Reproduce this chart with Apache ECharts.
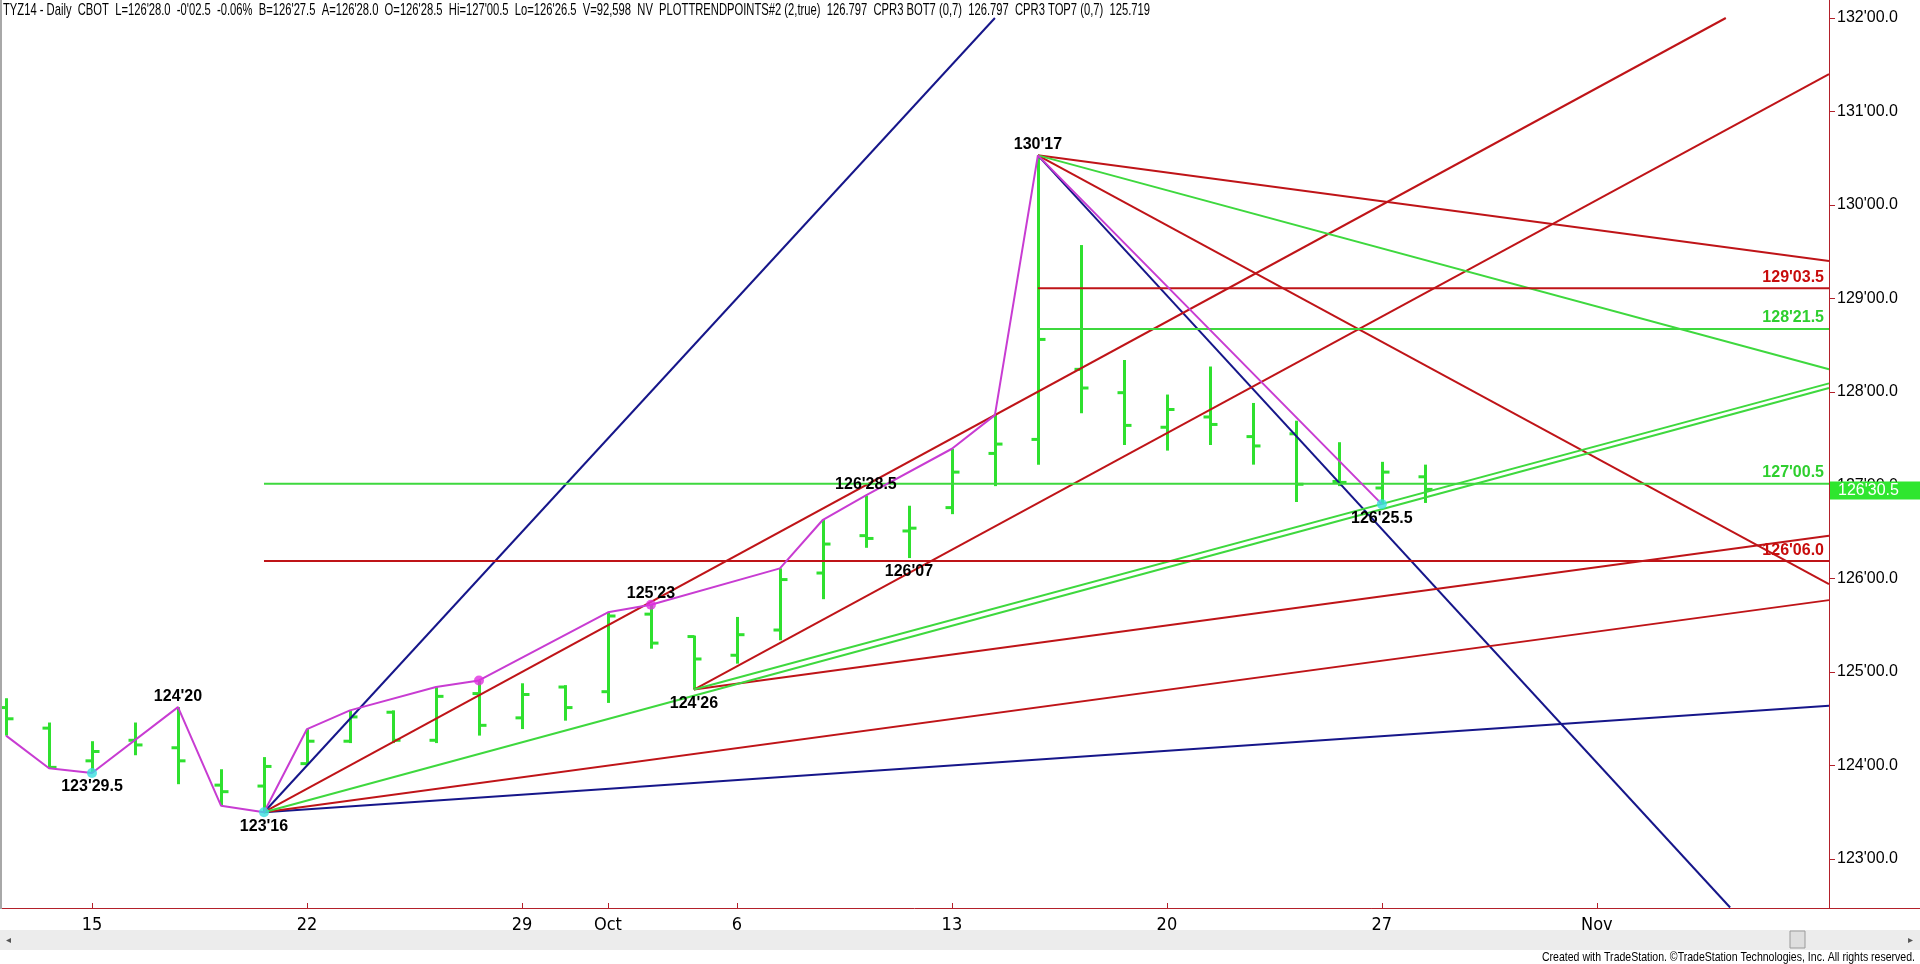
<!DOCTYPE html>
<html><head><meta charset="utf-8">
<script src="https://cdn.jsdelivr.net/npm/echarts@6/dist/echarts.min.js"></script>
<style>html,body{margin:0;padding:0;background:#fff;overflow:hidden}#c{width:1920px;height:964px;}</style>
</head><body><div id="c"></div>
<script>
// ---- data (prices in decimal points; labels in 32nds as shown) ----
const dates = ['Sep 11','Sep 12','Sep 15','Sep 16','Sep 17','Sep 18','Sep 19','Sep 22','Sep 23','Sep 24','Sep 25','Sep 26','Sep 29','Sep 30',
  'Oct 1','Oct 2','Oct 3','Oct 6','Oct 7','Oct 8','Oct 9','Oct 10','Oct 13','Oct 14','Oct 15','Oct 16','Oct 17','Oct 20','Oct 21','Oct 22','Oct 23','Oct 24','Oct 27','Oct 28'];
const opens  = [124.62,124.40,124.05,124.27,124.19,123.79,123.78,124.02,124.26,124.57,124.27,124.77,124.51,124.84,124.79,125.62,125.38,125.18,125.45,126.06,126.46,126.51,126.76,127.34,127.49,128.24,127.99,127.62,127.73,127.52,127.55,127.04,126.97,127.09];
const highs  = [124.72,124.46,124.26,124.46,124.625,123.96,124.09,124.39,124.59,124.59,124.84,124.91,124.88,124.86,125.64,125.72,125.39,125.59,126.11,126.63,126.89,126.78,127.39,127.75,130.53,129.57,128.34,127.97,128.27,127.88,127.69,127.46,127.25,127.22];
const lows   = [124.32,123.97,123.92,124.11,123.80,123.57,123.50,124.01,124.24,124.24,124.24,124.32,124.39,124.48,124.67,125.25,124.8125,125.09,125.34,125.78,126.33,126.22,126.69,126.99,127.22,127.77,127.43,127.37,127.43,127.22,126.82,126.99,126.797,126.81];
const closes = [124.50,123.98,124.15,124.22,124.05,123.72,123.99,124.26,124.52,124.27,124.74,124.43,124.76,124.62,125.60,125.31,125.14,125.40,125.99,126.37,126.43,126.54,127.14,127.44,128.56,128.04,127.64,127.81,127.65,127.42,127.01,127.03,127.14,126.955];

const dateTickIdx    = [2,7,12,14,17,22,27,32,37];
const dateTickLabels = ['15','22','29','Oct','6','13','20','27','Nov'];
const priceTicks = [123,124,125,126,127,128,129,130,131,132];

const zigzag = [[0,124.32],[1,123.97],[2,123.92],[4,124.625],[5,123.57],[6,123.5],[7,124.39],[8,124.59],[10,124.84],[11,124.91],
  [14,125.64],[15,125.72],[18,126.11],[19,126.63],[20,126.89],[22,127.39],[23,127.75],[24,130.53],[32,126.797]];
const highDots = [[11,124.91],[15,125.72]];
const lowDots  = [[2,123.92],[6,123.5],[32,126.797]];
const swingLabels = [[2,123.92,"123'29.5",'L'],[4,124.625,"124'20",'H'],[6,123.5,"123'16",'L'],[15,125.72,"125'23",'H'],
  [16,124.8125,"124'26",'L'],[20,126.89,"126'28.5",'H'],[21,126.22,"126'07",'L'],[24,130.53,"130'17",'H'],[32,126.797,"126'25.5",'L']];

const blueLines  = [[[6,123.5],[23,132]], [[6,123.5],[42.4,124.64]], [[24,130.53],[40.1,122.48]]];
const redLines   = [[[6,123.5],[40,132]], [[6,123.5],[42.4,125.77]], [[16,124.8125],[42.4,131.40]], [[16,124.8125],[42.4,126.46]],
                    [[24,130.53],[42.4,129.40]], [[24,130.53],[42.4,125.94]]];
const greenLines = [[[6,123.5],[42.4,128.04]], [[16,124.8125],[42.4,128.09]], [[24,130.53],[42.4,128.24]]];
const greenLevels = [[6,127.0156,"127'00.5"],[24,128.672,"128'21.5"]];
const redLevels   = [[6,126.1875,"126'06.0"],[24,129.109,"129'03.5"]];
const lastClose = 126.953, lastCloseLabel = "126'30.5";

const headerParts = [
  ['g',"TYZ14 - Daily  CBOT"],['r',"L=126'28.0  -0'02.5  -0.06%"],['k',"B=126'27.5  A=126'28.0"],['r',"O=126'28.5"],
  ['k',"Hi=127'00.5  Lo=126'26.5  V=92,598  NV  PLOTTRENDPOINTS#2 (2,true)"],['m',"126.797"],['k',"CPR3 BOT7 (0,7)"],
  ['c',"126.797"],['k',"CPR3 TOP7 (0,7)"],['m',"125.719"]];
const footerText = 'Created with TradeStation. ©TradeStation Technologies, Inc. All rights reserved.';

const xMin = -0.14, xMax = 42.4, yMin = 122.475, yMax = 132.0;

// ---- styles ----
const C = {bar:'#2fe02f', green:'#3ed83e', red:'#bf1418', blue:'#16168a', mag:'#c83cd2', cyan:'#38dede', axis:'#b3202a'};
const ARIAL = "Arial, 'Liberation Sans', sans-serif";

// measure text to emulate a narrow face by horizontal scaling
const mctx = document.createElement('canvas').getContext('2d');
function textWidth(t, font){ mctx.font = font; return mctx.measureText(t).width; }
const headerPlain = headerParts.map(p=>p[1]).join('  ');
const headerFont = '17px ' + ARIAL;
const headerScale = 1147 / textWidth(headerPlain, headerFont);
const footerFont = '13px ' + ARIAL;
const footerScale = 373 / textWidth(footerText, footerFont);

const chart = echarts.init(document.getElementById('c'), null, {renderer:'canvas'});
const series = [];

series.push({
  type:'custom', name:'bars', z:3, clip:true,
  data: dates.map((d,i)=>[i, opens[i], highs[i], lows[i], closes[i]]),
  encode:{x:0, y:[1,2,3,4]},
  renderItem(params, api){
    const i = api.value(0);
    const o = api.coord([i, api.value(1)]), h = api.coord([i, api.value(2)]),
          l = api.coord([i, api.value(3)]), c = api.coord([i, api.value(4)]);
    const x = Math.round(h[0]) + 0.5;
    const st = {stroke:C.bar, lineWidth:3};
    return {type:'group', children:[
      {type:'line', shape:{x1:x,y1:h[1],x2:x,y2:l[1]}, style:st},
      {type:'line', shape:{x1:x-7,y1:o[1],x2:x,y2:o[1]}, style:st},
      {type:'line', shape:{x1:x,y1:c[1],x2:x+7,y2:c[1]}, style:st}
    ]};
  }
});

function addLines(list, color, w){
  list.forEach(seg=>series.push({type:'line', data:seg, symbol:'none', clip:true, silent:true, z:4,
    lineStyle:{color, width:w}}));
}
addLines(blueLines, C.blue, 2);
addLines(redLines, C.red, 2);
addLines(greenLines, C.green, 2);
addLines(greenLevels.map(d=>[[d[0],d[1]],[xMax,d[1]]]), C.green, 2);
addLines(redLevels.map(d=>[[d[0],d[1]],[xMax,d[1]]]), C.red, 2);

series.push({type:'line', data:zigzag, symbol:'none', z:5, lineStyle:{color:C.mag, width:2}});
series.push({type:'scatter', data:highDots, symbolSize:10, z:6, itemStyle:{color:'#e030e0'}});
series.push({type:'scatter', data:lowDots, symbolSize:10, z:6, itemStyle:{color:C.cyan}});

series.push({
  type:'custom', z:7, clip:false, data: swingLabels.map(d=>[d[0],d[1]]),
  encode:{x:0,y:1},
  renderItem(params, api){
    const s = swingLabels[params.dataIndex];
    const p = api.coord([s[0], s[1]]);
    const hi = s[3]==='H';
    return {type:'text', x:p[0], y: hi ? p[1]-3 : p[1]+6,
      style:{text:s[2], fill:'#000', font:'bold 16px '+ARIAL, align:'center', verticalAlign: hi?'bottom':'top'}};
  }
});
function levelLabels(list, color){
  series.push({
    type:'custom', z:7, clip:false, data: list.map(d=>[xMax,d[1]]), encode:{x:0,y:1},
    renderItem(params, api){
      const s = list[params.dataIndex];
      const p = api.coord([xMax, s[1]]);
      return {type:'text', x:p[0]-5, y:p[1]-3,
        style:{text:s[2], fill:color, font:'bold 16px '+ARIAL, align:'right', verticalAlign:'bottom'}};
    }
  });
}
levelLabels(greenLevels, '#2fcf2f');
levelLabels(redLevels, '#c80c0c');

// last price tag on the axis
series.push({
  type:'custom', z:20, clip:false, data:[[xMax, lastClose]], encode:{x:0,y:1},
  renderItem(params, api){
    const p = api.coord([xMax, lastClose]);
    return {type:'group', children:[
      {type:'rect', shape:{x:p[0]+1, y:p[1]-8, width:95, height:18}, style:{fill:'#2fe62f'}},
      {type:'text', x:p[0]+9, y:p[1]+1, style:{text:lastCloseLabel, fill:'#fff', font:'16px '+ARIAL, verticalAlign:'middle'}}
    ]};
  }
});

const headerRich = {
  g:{color:'#2fc82f'}, r:{color:'#d00000'}, k:{color:'#000'}, m:{color:'#c82cc8'}, c:{color:'#30d0d0'}
};
const headerText = headerParts.map(p=>'{'+p[0]+'|'+p[1]+'}').join('  ');

chart.setOption({
  animation:false,
  backgroundColor:'#fff',
  grid:{left:0, right:91, top:18, bottom:56, containLabel:false},
  xAxis:{type:'value', min:xMin, max:xMax,
    axisLine:{show:true, onZero:false, lineStyle:{color:C.axis, width:1}},
    axisTick:{show:true, inside:true, length:5, customValues:dateTickIdx, lineStyle:{color:C.axis}},
    axisLabel:{customValues:dateTickIdx, margin:8, color:'#000', fontSize:18, fontFamily:"'DejaVu Sans Condensed', sans-serif",
      formatter:v=>dateTickLabels[dateTickIdx.indexOf(Math.round(v))]},
    splitLine:{show:false}},
  yAxis:{type:'value', position:'right', min:yMin, max:yMax,
    axisLine:{show:true, onZero:false, lineStyle:{color:C.axis, width:1}},
    axisTick:{show:true, length:6, customValues:priceTicks, lineStyle:{color:C.axis}},
    axisLabel:{customValues:priceTicks, margin:8, color:'#000', fontSize:16, fontFamily:ARIAL,
      formatter:v=>Math.round(v)+"'00.0"},
    splitLine:{show:false}},
  graphic:[
    {type:'line', shape:{x1:1829.5,y1:0,x2:1829.5,y2:18}, style:{stroke:C.axis, lineWidth:1}, z:10},
    {type:'line', shape:{x1:1829,y1:908.5,x2:1920,y2:908.5}, style:{stroke:C.axis, lineWidth:1}, z:10},
    {type:'rect', shape:{x:0,y:0,width:2,height:909}, style:{fill:'#a8a8a8'}, z:10},
    {type:'rect', shape:{x:0,y:930,width:1920,height:20}, style:{fill:'#ececec'}, z:10},
    {type:'rect', shape:{x:1790,y:931,width:15,height:17}, style:{fill:'#dedede', stroke:'#9a9a9a', lineWidth:1}, z:11},
    {type:'text', x:6, y:940, style:{text:'◂', fill:'#555', font:'10px sans-serif', verticalAlign:'middle'}, z:11},
    {type:'text', x:1908, y:940, style:{text:'▸', fill:'#555', font:'10px sans-serif', verticalAlign:'middle'}, z:11},
    {type:'text', x:1915, y:957, scaleX:footerScale, style:{text:footerText, fill:'#000', font:footerFont, align:'right', verticalAlign:'middle'}, z:11},
    {type:'text', x:3, y:10, scaleX:headerScale, style:{text:headerText, rich:headerRich, font:headerFont, verticalAlign:'middle'}, z:12}
  ],
  series
});
</script>
</body></html>
